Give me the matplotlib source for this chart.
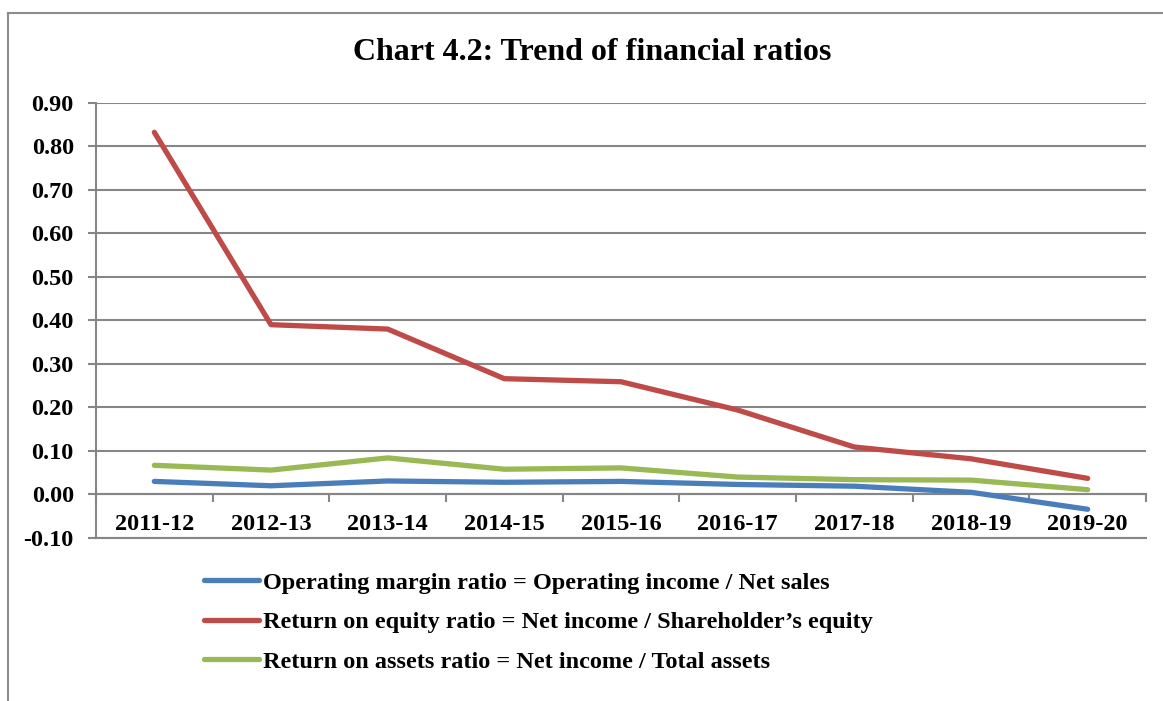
import matplotlib
matplotlib.use("Agg")
import matplotlib.pyplot as plt
from matplotlib.lines import Line2D
import numpy as np

years = ["2011-12", "2012-13", "2013-14", "2014-15", "2015-16",
         "2016-17", "2017-18", "2018-19", "2019-20"]
operating_margin = [0.030, 0.020, 0.031, 0.028, 0.030, 0.023, 0.019, 0.005, -0.034]
return_on_equity = [0.832, 0.390, 0.380, 0.266, 0.259, 0.194, 0.109, 0.082, 0.037]
return_on_assets = [0.067, 0.056, 0.084, 0.058, 0.061, 0.040, 0.034, 0.033, 0.011]
series_labels = [
    "Operating margin ratio = Operating income / Net sales",
    "Return on equity ratio = Net income / Shareholder\u2019s equity",
    "Return on assets ratio = Net income / Total assets",
]
yticks = [-0.10, 0.00, 0.10, 0.20, 0.30, 0.40, 0.50, 0.60, 0.70, 0.80, 0.90]
title = "Chart 4.2: Trend of financial ratios"

colors = ["#4A7EBB", "#BE4B48", "#98B954"]
grid_c = "#868686"
font = "Liberation Serif"
fs = 17.5

W, H = 1163, 701
fig = plt.figure(figsize=(W / 100, H / 100), dpi=100)
ax = fig.add_axes([96 / W, 1 - 538 / H, (1146 - 96) / W, (538 - 102.7) / H])

x = np.arange(len(years))
for vals, c, lab in zip([operating_margin, return_on_equity, return_on_assets], colors, series_labels):
    ax.plot(x, vals, color=c, lw=3.8, solid_capstyle="round", solid_joinstyle="round", label=lab, zorder=3)

ax.set_xlim(-0.5, len(years) - 0.5)
ax.set_ylim(-0.10, 0.90)
ax.set_yticks(yticks)
ax.set_yticklabels([f"{v:.2f}" for v in yticks], fontfamily=font, fontweight="bold", fontsize=fs)
ax.yaxis.grid(True, color=grid_c, lw=1.5, zorder=0)
for s in ["top", "right"]:
    ax.spines[s].set_visible(False)
ax.spines["left"].set_color(grid_c)
ax.spines["left"].set_linewidth(1.5)
ax.spines["bottom"].set_position(("data", 0.0))
ax.spines["bottom"].set_color(grid_c)
ax.spines["bottom"].set_linewidth(1.5)
ax.tick_params(axis="y", length=6, width=1.5, color=grid_c, pad=10)
# x-axis ticks at category boundaries
ax.set_xticks(np.arange(-0.5, len(years), 1.0))
ax.set_xticklabels([])
ax.tick_params(axis="x", length=6, width=1.5, color=grid_c, direction="out")
for i, yr in enumerate(years):
    ax.text(i, -0.068, yr, ha="center", va="center", fontfamily=font,
            fontweight="bold", fontsize=fs, transform=ax.transData)
# bottom gridline at -0.10
ax.axhline(-0.10, color=grid_c, lw=1.5, clip_on=False, zorder=1)

fig.text(592 / W, 1 - 52 / H, title, ha="center", va="center", fontfamily=font,
         fontweight="bold", fontsize=23)

leg = fig.legend(loc="upper left", bbox_to_anchor=(194 / W, 1 - 562 / H), frameon=False,
                 prop={"family": font, "weight": "bold", "size": fs},
                 handlelength=2.26, handletextpad=0.16, labelspacing=0.72, borderaxespad=0)

# outer border (top & left)
fig.add_artist(Line2D([8 / W, 8 / W], [0, 1 - 13 / H], color="#8C8C8C", lw=1.5, transform=fig.transFigure))
fig.add_artist(Line2D([8 / W, 1], [1 - 13 / H, 1 - 13 / H], color="#8C8C8C", lw=1.5, transform=fig.transFigure))

fig.savefig("out.png", dpi=100, facecolor="white")
